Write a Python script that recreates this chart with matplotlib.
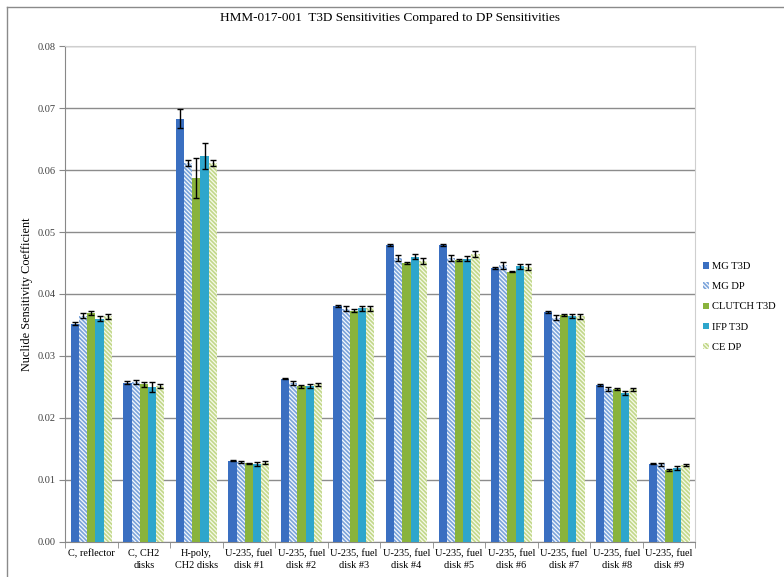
import numpy as np
import matplotlib
matplotlib.use('Agg')
import matplotlib.pyplot as plt
from matplotlib.patches import Patch
from matplotlib.lines import Line2D

plt.rcParams['font.family'] = ['Liberation Serif', 'DejaVu Serif']
plt.rcParams['hatch.linewidth'] = 1.2

# ---- data ----
categories = ['C, reflector', 'C, CH2\ndisks', 'H-poly,\nCH2 disks',
              'U-235, fuel\ndisk #1', 'U-235, fuel\ndisk #2', 'U-235, fuel\ndisk #3',
              'U-235, fuel\ndisk #4', 'U-235, fuel\ndisk #5', 'U-235, fuel\ndisk #6',
              'U-235, fuel\ndisk #7', 'U-235, fuel\ndisk #8', 'U-235, fuel\ndisk #9']
series_names = ['MG T3D', 'MG DP', 'CLUTCH T3D', 'IFP T3D', 'CE DP']

mg_t3d = [0.0352, 0.0257, 0.0683, 0.0131, 0.0263, 0.0381, 0.0479, 0.0479, 0.0442, 0.0371, 0.0253, 0.0126]
mg_dp = [0.0365, 0.0258, 0.0612, 0.0129, 0.0256, 0.0376, 0.0458, 0.0458, 0.0446, 0.0362, 0.0247, 0.0125]
clutch_t3d = [0.0369, 0.0254, 0.0587, 0.0127, 0.0251, 0.0373, 0.0450, 0.0455, 0.0436, 0.0366, 0.0247, 0.0116]
ifp_t3d = [0.0360, 0.0250, 0.0623, 0.0126, 0.0251, 0.0377, 0.0460, 0.0457, 0.0445, 0.0364, 0.0240, 0.0119]
ce_dp = [0.0364, 0.0252, 0.0611, 0.0128, 0.0254, 0.0377, 0.0453, 0.0464, 0.0443, 0.0364, 0.0246, 0.0124]

mg_t3d_err = [0.0002, 0.0002, 0.0015, 0.0001, 0.0001, 0.0002, 0.0001, 0.0001, 0.0001, 0.0001, 0.0001, 0.0001]
mg_dp_err = [0.0004, 0.0003, 0.0005, 0.0002, 0.0003, 0.0004, 0.0005, 0.0005, 0.0005, 0.0004, 0.0003, 0.0002]
clutch_t3d_err = [0.0003, 0.0004, 0.0032, 0.0001, 0.0002, 0.0002, 0.0002, 0.0002, 0.0001, 0.0002, 0.0002, 0.0001]
ifp_t3d_err = [0.0004, 0.0008, 0.0021, 0.0003, 0.0003, 0.0004, 0.0004, 0.0004, 0.0004, 0.0003, 0.0003, 0.0003]
ce_dp_err = [0.0004, 0.0003, 0.0005, 0.0002, 0.0003, 0.0004, 0.0005, 0.0005, 0.0005, 0.0004, 0.0002, 0.0002]

values = [mg_t3d, mg_dp, clutch_t3d, ifp_t3d, ce_dp]
errors = [mg_t3d_err, mg_dp_err, clutch_t3d_err, ifp_t3d_err, ce_dp_err]

# face colour, hatch colour, hatch pattern
styles = [('#3a6fc1', None, ''),
          ('#f4f8fd', '#7aa3da', '\\' * 8),
          ('#89b33c', None, ''),
          ('#2ea6cc', None, ''),
          ('#f7faea', '#c2d88a', '\\' * 8)]

fig = plt.figure(figsize=(7.84, 5.77), dpi=100)
ax = fig.add_axes([0.083, 0.061, 0.804, 0.859])

x = np.arange(len(categories))
w = 0.156
for i, (vals, errs) in enumerate(zip(values, errors)):
    fc, hc, hatch = styles[i]
    pos = x + (i - 2) * w
    ax.bar(pos, vals, w, color=fc, edgecolor=hc if hc else fc, hatch=hatch,
           linewidth=0, zorder=3)
    ax.errorbar(pos, vals, yerr=errs, fmt='none', ecolor='black', elinewidth=1,
                capsize=2.2, capthick=1, zorder=4)

ax.set_xlim(-0.5, len(categories) - 0.5)
ax.set_ylim(0, 0.08)
ax.set_yticks(np.arange(0, 0.081, 0.01))
ax.set_yticklabels(['%.2f' % v for v in np.arange(0, 0.081, 0.01)], fontsize=7.5, color='#404040')
ax.set_xticks(x)
ax.set_xticklabels(categories, fontsize=7.4, linespacing=1.45)
ax.set_xticks(np.arange(-0.5, len(categories)), minor=True)
ax.tick_params(axis='x', which='major', length=0, pad=5)
ax.tick_params(axis='x', which='minor', length=4, color='#888888')
ax.tick_params(axis='y', length=4, color='#888888', pad=3)
ax.grid(axis='y', color='#8c8c8c', linewidth=1, zorder=0)
for s in ['left', 'bottom']:
    ax.spines[s].set_color('#888888')
for s in ['top', 'right']:
    ax.spines[s].set_color('#cfcfcf')

ax.set_ylabel('Nuclide Sensitivity Coefficient', fontsize=8.8, labelpad=3)
fig.text(0.497, 0.968, 'HMM-017-001  T3D Sensitivities Compared to DP Sensitivities',
         ha='center', va='center', fontsize=9.5)

handles = []
for i, name in enumerate(series_names):
    fc, hc, hatch = styles[i]
    handles.append(Patch(facecolor=fc, edgecolor=hc if hc else fc, hatch=hatch, linewidth=0, label=name))
fig.legend(handles=handles, loc='center left', bbox_to_anchor=(0.885, 0.468),
           frameon=False, fontsize=7.6, handlelength=0.55, handleheight=0.55,
           handletextpad=0.25, labelspacing=1.05)

# outer chart border
fig.add_artist(Line2D([7 / 784, 7 / 784], [0, 1 - 7 / 577], transform=fig.transFigure,
                      color='#8a8a8a', linewidth=1))
fig.add_artist(Line2D([7 / 784, 1], [1 - 7 / 577, 1 - 7 / 577], transform=fig.transFigure,
                      color='#8a8a8a', linewidth=1))

fig.savefig('out.png', dpi=100)
